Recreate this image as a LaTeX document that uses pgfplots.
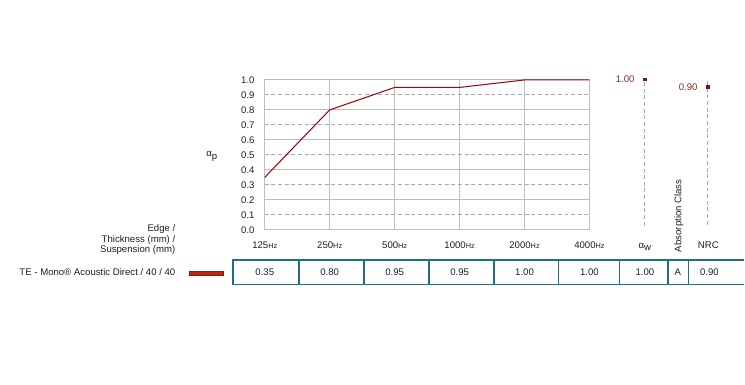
\documentclass[border=0pt]{standalone}
\usepackage{fontspec}
\setmainfont{Liberation Sans}
\usepackage{pgfplots}
\pgfplotsset{compat=1.18}
\usepackage{pgfplotstable}
\definecolor{curve}{HTML}{A00A0A}
\definecolor{dot}{HTML}{8B0A0A}
\definecolor{gridc}{HTML}{BDBDBD}
\definecolor{dashc}{HTML}{A8A8A8}
\definecolor{tbl}{HTML}{1F6E85}
\definecolor{txt}{HTML}{1C1C2C}
\definecolor{vallab}{HTML}{8A2E1E}
\definecolor{legred}{HTML}{C2260E}
\definecolor{legedge}{HTML}{8A1A0A}

\pgfplotstableread{
x v
0 0.35
1 0.80
2 0.95
3 0.95
4 1.00
5 1.00
}\absdata

\pgfplotstableread{
x v lab
0 1.00 1.00
1 0.90 0.90
}\singledata

\newcommand{\Hz}{{\fontsize{5.5}{6.5}\selectfont Hz}}
\newcommand{\tf}{\fontsize{7.2}{8.6}\selectfont}

\begin{document}
\begin{tikzpicture}
\begin{axis}[
  at={(198.75pt,-172.5pt)}, anchor=south west,
  scale only axis, width=243.75pt, height=112.5pt,
  xmin=0, xmax=5, ymin=0, ymax=1,
  axis line style={gridc, line width=0.75pt},
  xtick={0,1,2,3,4,5},
  xticklabels={125\Hz,250\Hz,500\Hz,1000\Hz,2000\Hz,4000\Hz},
  ytick={0,0.1,0.2,0.3,0.4,0.5,0.6,0.7,0.8,0.9,1.0},
  yticklabels={0.0,0.1,0.2,0.3,0.4,0.5,0.6,0.7,0.8,0.9,1.0},
  major tick length=0pt,
  tick label style={font=\tf, text=txt, inner sep=0pt},
  xticklabel style={anchor=base, yshift=-13.9pt},
  yticklabel style={anchor=east, xshift=-7.5pt},
  clip=false,
]
\pgfplotsinvokeforeach{1,2,3,4}{\draw[gridc, line width=0.75pt] (axis cs:#1,0) -- (axis cs:#1,1);}
\pgfplotsinvokeforeach{0.2,0.4,0.6,0.8}{\draw[gridc, line width=0.75pt] (axis cs:0,#1) -- (axis cs:5,#1);}
\pgfplotsinvokeforeach{0.1,0.3,0.5,0.7,0.9}{\draw[dashc, line width=0.75pt, dash pattern=on 3pt off 2pt] (axis cs:0,#1) -- (axis cs:5,#1);}
\addplot[curve, line width=0.8pt, mark=none] table[x=x,y=v]{\absdata};
\end{axis}

\begin{scope}[x=0.75pt,y=-0.75pt]
\path (0,0) rectangle (745,385);
% dashed guide lines for single-number values
\draw[dashc, line width=0.75pt, dash pattern=on 3pt off 2pt] (645.3,82) -- (645.3,227);
\draw[dashc, line width=0.75pt, dash pattern=on 3pt off 2pt] (708.3,81) -- (708.3,227);
\end{scope}

\begin{axis}[
  at={(483.975pt,-65.25pt)}, anchor=south west,
  scale only axis, width=47.25pt, height=5.8pt,
  xmin=0, xmax=1, ymin=0.9, ymax=1.0,
  axis lines=none, clip=false,
]
\addplot[only marks, mark=square*, mark size=1pt, color=dot,
  nodes near coords, point meta=explicit symbolic,
  nodes near coords style={anchor=east, inner sep=0pt, xshift=-7.5pt, text=vallab, font=\tf}]
  table[x=x,y=v,meta=lab]{\singledata};
\end{axis}

\begin{scope}[x=0.75pt,y=-0.75pt, every node/.style={inner sep=0pt, font=\tf, text=txt}]
% y label
\node[anchor=base] at (212,157) {α\raisebox{-0.45ex}{p}};
% header labels
\node[anchor=base] at (645.5,248.5) {α\raisebox{-0.45ex}{w}};
\node[anchor=base] at (709,249) {NRC};
\node[anchor=west, rotate=90] at (679.5,252.5) {Absorption Class};
% left labels
\node[anchor=base east] at (175.7,232) {Edge /};
\node[anchor=base east] at (175.7,242.5) {Thickness (mm) /};
\node[anchor=base east] at (175.7,253) {Suspension (mm)};
\node[anchor=base east] at (175.7,275.5) {TE - Mono® Acoustic Direct / 40 / 40};
% legend bar
\filldraw[fill=legred, draw=legedge, line width=0.5pt] (189,271.3) rectangle (223.7,275.7);
% table
\draw[tbl, line width=1pt] (745,260.3) -- (233.3,260.3) -- (233.3,284.7) -- (745,284.7);
\foreach \xx in {299.3,364.3,429.3,494.3,559.3,620.3,668.7,689.3}
  \draw[tbl, line width=1pt] (\xx,260.3) -- (\xx,284.7);
\node[anchor=base] at (265,275.5) {0.35};
\node[anchor=base] at (330,275.5) {0.80};
\node[anchor=base] at (395,275.5) {0.95};
\node[anchor=base] at (460,275.5) {0.95};
\node[anchor=base] at (525,275.5) {1.00};
\node[anchor=base] at (590,275.5) {1.00};
\node[anchor=base] at (645.5,275.5) {1.00};
\node[anchor=base] at (678.5,275.5) {A};
\node[anchor=base] at (710,275.5) {0.90};
\end{scope}
\end{tikzpicture}
\end{document}
